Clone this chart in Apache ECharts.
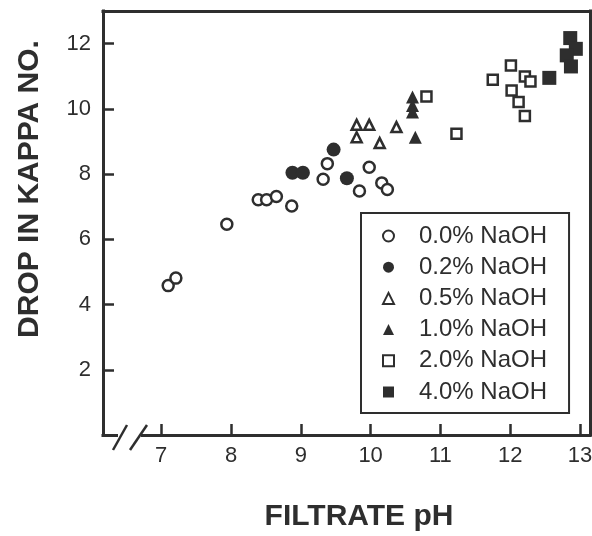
<!DOCTYPE html>
<html>
<head>
<meta charset="utf-8">
<script src="https://cdn.jsdelivr.net/npm/echarts@6/dist/echarts.min.js"></script>
<style>
html,body{margin:0;padding:0;background:#fff;}
#chart{width:592px;height:536px;}
</style>
</head>
<body>
<div id="chart"></div>
<script>
// ---- data ----
const xTicks = [7, 8, 9, 10, 11, 12, 13];
const yTicks = [2, 4, 6, 8, 10, 12];
const seriesNames = ['0.0% NaOH', '0.2% NaOH', '0.5% NaOH', '1.0% NaOH', '2.0% NaOH', '4.0% NaOH'];
const naoh00 = [[7.10,4.58],[7.21,4.81],[7.94,6.46],[8.39,7.21],[8.51,7.21],[8.65,7.31],[8.87,7.02],
                [9.38,8.32],[9.32,7.84],[9.98,8.21],[9.84,7.48],[10.16,7.73],[10.24,7.53]];
const naoh02 = [[8.88,8.04],[9.03,8.04],[9.47,8.75],[9.66,7.87]];
const naoh05 = [[9.80,9.51],[9.98,9.51],[9.80,9.13],[10.13,8.95],[10.37,9.44]];
const naoh10 = [[10.60,10.36],[10.60,10.10],[10.60,9.90],[10.64,9.13]];
const naoh20 = [[10.80,10.38],[11.23,9.24],[11.75,10.89],[12.01,11.33],[12.21,10.99],[12.29,10.84],
                [12.02,10.56],[12.12,10.21],[12.21,9.78]];
const naoh40 = [[12.56,10.95],[12.86,12.17],[12.94,11.84],[12.81,11.64],[12.87,11.30]];
const xMin = 6.166, xMax = 13.143, yMin = 0, yMax = 13;

const INK = '#2e2e2e';
const FONT = '"Liberation Sans", Arial, sans-serif';

function openStyle() { return { color: '#ffffff', borderColor: INK, borderWidth: 2.5, opacity: 1 }; }
function fillStyle() { return { color: INK, borderWidth: 0, opacity: 1 }; }

const chart = echarts.init(document.getElementById('chart'), null, { renderer: 'canvas' });

const option = {
  animation: false,
  backgroundColor: '#ffffff',
  grid: { left: 103, top: 11, right: 2, bottom: 101, containLabel: false, outerBoundsMode: 'none' },
  legend: {
    orient: 'vertical', left: 361, top: 213,
    padding: [10, 22, 8, 21],
    itemWidth: 11, itemHeight: 11, itemGap: 5.2,
    borderColor: INK, borderWidth: 2,
    itemStyle: { opacity: 1 },
    textStyle: { fontSize: 24, color: INK, fontFamily: FONT, lineHeight: 26, padding: [0, 0, 0, 20] },
    data: seriesNames
  },
  xAxis: [{
    type: 'value', min: xMin, max: xMax, position: 'bottom',
    name: 'FILTRATE pH', nameLocation: 'middle', nameGap: 67,
    nameTextStyle: { fontSize: 30, fontWeight: 'bold', color: INK, fontFamily: FONT, padding: [0, 0, 0, 25] },
    axisLine: { show: true, onZero: false, lineStyle: { color: INK, width: 3, cap: 'square' } },
    axisTick: { show: true, inside: true, length: 11, lineStyle: { color: INK, width: 2.5 }, customValues: xTicks },
    axisLabel: { show: true, fontSize: 22, color: INK, fontFamily: FONT, margin: 10, customValues: xTicks },
    splitLine: { show: false }
  }, {
    type: 'value', min: xMin, max: xMax, position: 'top',
    axisLine: { show: true, onZero: false, lineStyle: { color: INK, width: 3, cap: 'square' } },
    axisTick: { show: false }, axisLabel: { show: false }, splitLine: { show: false }
  }],
  yAxis: [{
    type: 'value', min: yMin, max: yMax, position: 'left',
    name: 'DROP IN KAPPA NO.', nameLocation: 'middle', nameGap: 58,
    nameTextStyle: { fontSize: 30, fontWeight: 'bold', color: INK, fontFamily: FONT, padding: [0, 0, 0, 68] },
    axisLine: { show: true, onZero: false, lineStyle: { color: INK, width: 3, cap: 'square' } },
    axisTick: { show: true, inside: true, length: 11, lineStyle: { color: INK, width: 2.5 }, customValues: yTicks },
    axisLabel: { show: true, fontSize: 22, color: INK, fontFamily: FONT, margin: 12, customValues: yTicks },
    splitLine: { show: false }
  }, {
    type: 'value', min: yMin, max: yMax, position: 'right',
    axisLine: { show: true, onZero: false, lineStyle: { color: INK, width: 3, cap: 'square' } },
    axisTick: { show: false }, axisLabel: { show: false }, splitLine: { show: false }
  }],
  series: [
    { name: seriesNames[0], type: 'scatter', data: naoh00, symbol: 'circle', symbolSize: 11, itemStyle: openStyle() },
    { name: seriesNames[1], type: 'scatter', data: naoh02, symbol: 'circle', symbolSize: 14, itemStyle: fillStyle() },
    { name: seriesNames[2], type: 'scatter', data: naoh05, symbol: 'triangle', symbolSize: 10, itemStyle: openStyle() },
    { name: seriesNames[3], type: 'scatter', data: naoh10, symbol: 'triangle', symbolSize: 13, itemStyle: fillStyle() },
    { name: seriesNames[4], type: 'scatter', data: naoh20, symbol: 'rect', symbolSize: 10, itemStyle: openStyle() },
    { name: seriesNames[5], type: 'scatter', data: naoh40, symbol: 'rect', symbolSize: 14, itemStyle: fillStyle() }
  ]
};
chart.setOption(option);

// axis break marks on the x axis (decoration anchored to the axis origin)
const o = chart.convertToPixel({ gridIndex: 0 }, [xMin, yMin]);
chart.setOption({
  graphic: [
    { type: 'rect', z: 100, shape: { x: o[0] + 15, y: o[1] - 4, width: 23, height: 8 }, style: { fill: '#ffffff' } },
    { type: 'line', z: 101, shape: { x1: o[0] + 10, y1: o[1] + 15, x2: o[0] + 24, y2: o[1] - 10 }, style: { stroke: INK, lineWidth: 2.5 } },
    { type: 'line', z: 101, shape: { x1: o[0] + 27, y1: o[1] + 15, x2: o[0] + 44, y2: o[1] - 10 }, style: { stroke: INK, lineWidth: 2.5 } }
  ]
});
</script>
</body>
</html>
